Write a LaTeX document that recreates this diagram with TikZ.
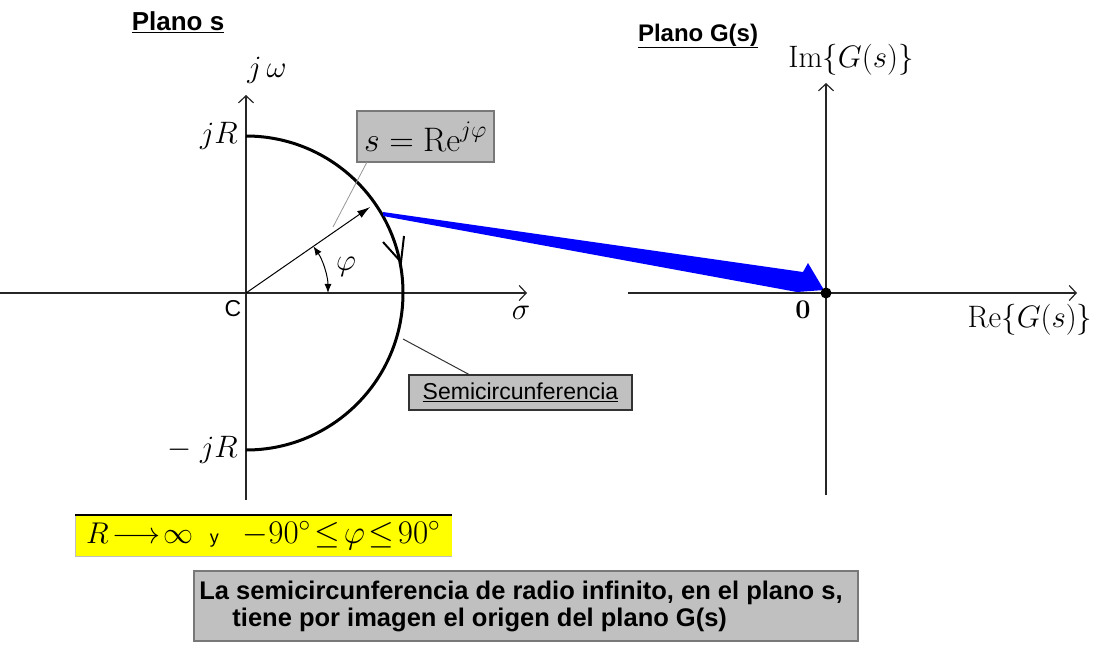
\RequirePackage{fix-cm}
\documentclass[tikz,border=0pt]{standalone}
\usepackage{fontspec}
\newfontfamily\arial{Liberation Sans}
\usetikzlibrary{arrows.meta}
\definecolor{boxgray}{RGB}{192,192,192}
\definecolor{edgegray}{RGB}{120,120,120}
\definecolor{leadgray}{RGB}{150,150,150}
\definecolor{arrowblue}{RGB}{0,0,255}
\definecolor{hiyellow}{RGB}{255,255,0}
\begin{document}
\begin{tikzpicture}[x=1pt,y=1pt,
  axisline/.style={line width=1.4pt, draw=black!85, -{Straight Barb[length=7pt,width=15pt,line width=1.2pt]}},
  lbl/.style={inner sep=0pt, font=\fontsize{31}{34}\selectfont},
  graybox/.style={draw=edgegray, fill=boxgray, line width=1.5pt, inner sep=0pt},
  title/.style={inner sep=0pt, font=\arial\bfseries\fontsize{24}{28}\selectfont},
]
\useasboundingbox (0,0) rectangle (1099,-646);

% ---------- s-plane ----------
\coordinate (O) at (246,-293);
\coordinate (Otop) at (246,-95);
\coordinate (Obot) at (246,-500);
\coordinate (Oleft) at (0,-293);
\coordinate (Oright) at (527,-293);
\draw[axisline] (Obot) -- (Otop);
\draw[axisline] (Oleft) -- (Oright);

% semicircle
\coordinate (jRpt) at (246,-136);
\draw[line width=3pt] (jRpt) arc[start angle=90, end angle=-90, radius=157];
% direction barb on the semicircle
\coordinate (barbA) at (383,-242);
\coordinate (barbT) at (401,-262);
\coordinate (barbB) at (404,-236);
\draw[line width=2pt] (barbA) -- (barbT) -- (barbB);

% radius vector
\coordinate (P) at (370.1,-207.0);
\draw[line width=1pt, -{Latex[length=13pt,width=8pt]}] (O) -- (P);

% angle phi
\coordinate (phiS) at (313.4,-246.3);
\draw[line width=1pt, {Latex[length=9pt,width=7pt]}-{Latex[length=9pt,width=7pt]}]
  (phiS) arc[start angle=34.7, end angle=0, radius=82];
\node[lbl] (phi) at (346,-267) {$\varphi$};

% labels
\node[title, font=\arial\bfseries\fontsize{26}{28}\selectfont] (planos) at (178,-22) {\underline{Plano s}};
\node[lbl] (jw) at (267,-70) {$j\,\omega$};
\node[lbl, anchor=east] (jR) at (238,-136) {$jR$};
\node[lbl, anchor=east] (mjR) at (238,-450) {$-\;jR$};
\node[inner sep=0pt, font=\arial\fontsize{23}{24}\selectfont] (C) at (233,-309) {C};
\node[lbl] (sigma) at (521,-313) {$\sigma$};

% s = Re^{j phi} callout
\node[graybox, minimum width=137, minimum height=51, font=\fontsize{34}{38}\selectfont] (sbox) at (425.5,-136.5) {$s=\mathrm{Re}^{j\varphi}$};
\coordinate (sleadA) at (367,-162);
\coordinate (sleadB) at (333,-227);
\draw[leadgray, line width=0.8pt] (sleadA) -- (sleadB);

% Semicircunferencia callout
\node[draw=black!80, fill=boxgray, line width=1.2pt, inner sep=0pt, minimum width=223, minimum height=35,
  font=\arial\fontsize{23}{26}\selectfont] (semi) at (520.5,-392.5) {\underline{Semicircunferencia}};
\coordinate (semiA) at (403,-339);
\coordinate (semiB) at (470,-375);
\draw[black!80, line width=1pt] (semiA) -- (semiB);

% ---------- blue mapping arrow ----------
\fill[arrowblue] (383,-212) -- (803,-272) -- (808,-263) -- (824,-290) -- (797,-292) -- (383,-216) -- cycle;

% ---------- G-plane ----------
\coordinate (G0) at (826,-293);
\coordinate (Gtop) at (826,-83);
\coordinate (Gbot) at (826,-495);
\coordinate (Gleft) at (628,-293);
\coordinate (Gright) at (1077,-293);
\draw[axisline] (Gbot) -- (Gtop);
\draw[axisline] (Gleft) -- (Gright);
\fill[black] (G0) circle (5.5);
\node[inner sep=0pt, font=\bfseries\fontsize{27}{28}\selectfont] (zero) at (803,-310) {0};
\node[title] (planog) at (698,-36) {\underline{Plano G(s)}};
\node[lbl] (im) at (851,-60) {$\mathrm{Im}\Bigl\{G(s)\Bigr\}$};
\node[lbl] (re) at (1030,-320) {$\mathrm{Re}\Bigl\{G(s)\Bigr\}$};

% ---------- yellow condition box ----------
\fill[hiyellow] (75,-515) rectangle (452,-556);
\draw[black!25, line width=1pt] (75,-515) -- (75,-556) -- (452,-556);
\draw[black, line width=1.6pt] (75,-515) -- (452,-515);
\node[anchor=west, inner sep=0pt, font=\fontsize{30}{34}\selectfont] (cond) at (86,-536)
  {$R\!\longrightarrow\!\infty$\hspace{16pt}{\arial\fontsize{18}{20}\selectfont y}\hspace{24pt}{\fontsize{33}{36}\selectfont$-90^\circ\!\leq\!\varphi\!\leq\! 90^\circ$}};

% ---------- bottom conclusion box ----------
\node[graybox, minimum width=664, minimum height=70] (concl) at (526,-606) {};
\node[inner sep=0pt, align=left, font=\arial\bfseries\fontsize{25.5}{27}\selectfont] (concltxt) at (521,-606)
  {La semicircunferencia de radio infinito, en el plano s,\\\hspace{1.3em}tiene por imagen el origen del plano G(s)};
\end{tikzpicture}
\end{document}
